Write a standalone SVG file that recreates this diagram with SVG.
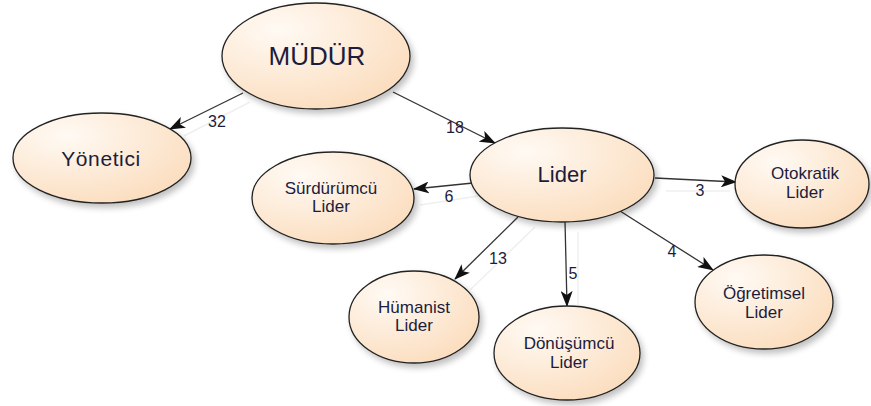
<svg xmlns="http://www.w3.org/2000/svg" width="871" height="406" viewBox="0 0 871 406">
<defs>
<radialGradient id="g" cx="0.3" cy="0.25" r="0.85">
<stop offset="0" stop-color="#fffaf4"/>
<stop offset="1" stop-color="#fbdcbc"/>
</radialGradient>
<filter id="sh" x="-20%" y="-20%" width="150%" height="150%">
<feGaussianBlur in="SourceAlpha" stdDeviation="3"/>
<feOffset dx="3" dy="4" result="b"/>
<feComponentTransfer><feFuncA type="linear" slope="0.25"/></feComponentTransfer>
<feMerge><feMergeNode/><feMergeNode in="SourceGraphic"/></feMerge>
</filter>
<marker id="ah" viewBox="0 0 16 12" refX="15" refY="6" markerWidth="16" markerHeight="12" markerUnits="userSpaceOnUse" orient="auto">
<path d="M0,0 L16,6 L0,12 L4,6 Z" fill="#111"/>
</marker>
</defs>
<style>
.n ellipse{fill:url(#g);stroke:#222;stroke-width:1.3;filter:url(#sh)}
.n text{font-family:"Liberation Sans",Arial,sans-serif;fill:#1c1c3c;text-anchor:middle}
.n .t{font-size:17px}
.e line{stroke:#333;stroke-width:1.3}
.e .a{marker-end:url(#ah)}
.e .s{stroke:#efefef;stroke-width:1.5}
.l{font-family:"Liberation Sans",Arial,sans-serif;font-size:16px;fill:#1c1c3c;text-anchor:middle}
</style>
<g id="connectors" class="e">
<line class="s" x1="250" y1="102" x2="184" y2="136"/>
<line class="s" x1="478" y1="196" x2="420" y2="205"/>
<line class="s" x1="535" y1="227" x2="470" y2="290"/>
<line class="s" x1="578" y1="232" x2="578" y2="305"/>
<line class="s" x1="666" y1="191" x2="730" y2="191"/>
<line class="a" x1="243" y1="93" x2="170" y2="129"/>
<line class="a" x1="393" y1="92" x2="495" y2="143"/>
<line class="a" x1="473" y1="183" x2="414" y2="189"/>
<line class="a" x1="655" y1="178" x2="736" y2="182"/>
<line class="a" x1="518" y1="217" x2="455" y2="279"/>
<line class="a" x1="565" y1="221" x2="567" y2="306"/>
<line class="a" x1="620" y1="211" x2="713" y2="270"/>
<text class="l" x="217" y="127">32</text>
<text class="l" x="455" y="133">18</text>
<text class="l" x="449" y="202">6</text>
<text class="l" x="700" y="196">3</text>
<text class="l" x="498" y="264">13</text>
<text class="l" x="573" y="279">5</text>
<text class="l" x="672" y="257">4</text>
</g>
<g id="mudur" class="n"><ellipse cx="316" cy="56" rx="94" ry="53"/><text x="317" y="65" font-size="26">MÜDÜR</text></g>
<g id="yonetici" class="n"><ellipse cx="102" cy="158" rx="89" ry="45"/><text x="101" y="166" font-size="21" letter-spacing="0.6">Yönetici</text></g>
<g id="lider" class="n"><ellipse cx="562" cy="175" rx="92" ry="47"/><text x="562" y="182" font-size="22">Lider</text></g>
<g id="surdurumcu" class="n"><ellipse cx="333" cy="198" rx="81" ry="46"/><text class="t" x="331" y="194">Sürdürümcü</text><text class="t" x="331" y="212">Lider</text></g>
<g id="otokratik" class="n"><ellipse cx="802" cy="184" rx="67" ry="44"/><text class="t" x="805" y="179">Otokratik</text><text class="t" x="805" y="198">Lider</text></g>
<g id="humanist" class="n"><ellipse cx="414" cy="317" rx="65" ry="46"/><text class="t" x="414" y="313">Hümanist</text><text class="t" x="414" y="331">Lider</text></g>
<g id="donusumcu" class="n"><ellipse cx="567" cy="353" rx="73" ry="47"/><text class="t" x="569" y="349">Dönüşümcü</text><text class="t" x="569" y="368">Lider</text></g>
<g id="ogretimsel" class="n"><ellipse cx="764" cy="302" rx="69" ry="47"/><text class="t" x="764" y="299">Öğretimsel</text><text class="t" x="764" y="318">Lider</text></g>
</svg>
